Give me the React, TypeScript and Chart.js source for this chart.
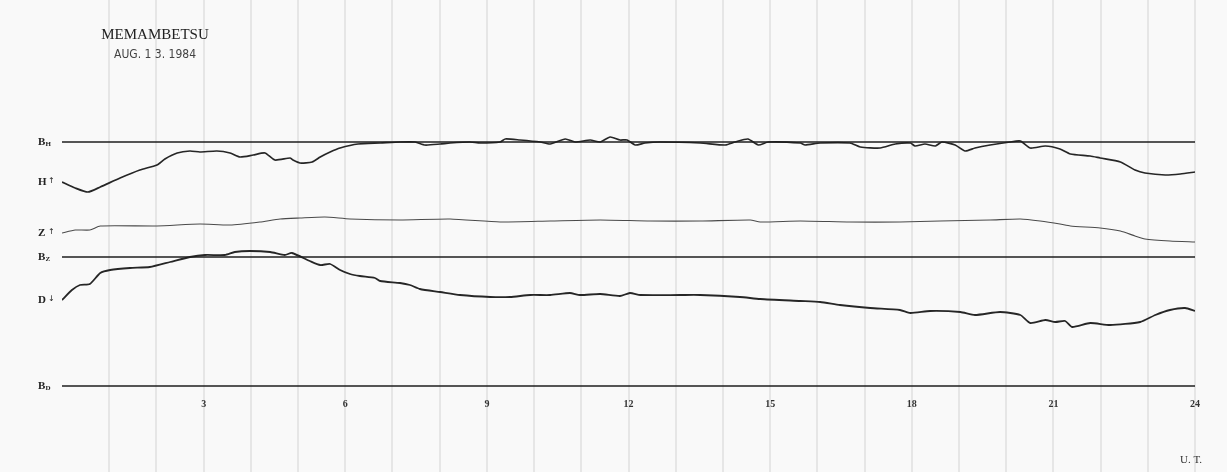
import React, { useEffect, useRef } from "react";
import { Chart, registerables } from "chart.js";

Chart.register(...registerables);

// Universal time (hours) and trace heights (arbitrary chart units, 0 = bottom of sheet)
const H_HOURS = [0, 0.28, 0.55, 0.81, 1.23, 1.65, 2.01, 2.18, 2.44, 2.71, 2.92, 3.28, 3.56, 3.77, 4.05, 4.3, 4.51, 4.83, 4.89, 5.04, 5.3, 5.47, 5.68, 5.89, 6.27, 6.74, 7.16, 7.48, 7.69, 8.01, 8.22, 8.64, 8.86, 9.28, 9.39, 9.7, 10.13, 10.34, 10.66, 10.87, 11.19, 11.4, 11.61, 11.82, 11.97, 12.14, 12.35, 12.67, 13.52, 14.05, 14.26, 14.53, 14.75, 14.96, 15.64, 15.74, 16.06, 16.69, 16.91, 17.33, 17.65, 17.97, 18.07, 18.28, 18.5, 18.64, 18.92, 19.13, 19.34, 19.66, 20.08, 20.3, 20.51, 20.83, 21.14, 21.36, 21.78, 21.99, 22.42, 22.73, 22.94, 23.37, 23.69, 24];
const H_VALUES = [290, 284, 280, 285, 294, 302, 307, 313, 319, 321, 320, 321, 319, 315, 317, 319, 312, 314, 312, 309, 310, 315, 320, 324, 328, 329, 330, 330, 327, 328, 329, 330, 329, 330, 333, 332, 330, 328, 333, 330, 332, 330, 335, 332, 332, 327, 329, 330, 329, 327, 330, 333, 327, 330, 329, 327, 329, 329, 325, 324, 328, 329, 326, 328, 326, 330, 327, 321, 324, 327, 330, 331, 324, 326, 323, 318, 316, 314, 310, 302, 299, 297, 298, 300];

const Z_HOURS = [0, 0.28, 0.59, 0.81, 2.01, 2.92, 3.56, 4.19, 4.62, 5.04, 5.57, 6.1, 7.16, 8.22, 9.28, 10.34, 11.4, 12.46, 13.52, 14.58, 14.79, 15.64, 16.69, 17.75, 18.6, 19.66, 20.3, 20.72, 21.14, 21.36, 21.99, 22.42, 22.73, 22.94, 23.47, 24];
const Z_VALUES = [239, 242, 242, 246, 246, 248, 247, 250, 253, 254, 255, 253, 252, 253, 250, 251, 252, 251, 251, 252, 250, 251, 250, 250, 251, 252, 253, 251, 248, 246, 244, 241, 236, 233, 231, 230];

const D_HOURS = [0, 0.21, 0.38, 0.59, 0.81, 1.02, 1.44, 1.86, 2.29, 2.71, 3.03, 3.45, 3.66, 3.98, 4.41, 4.72, 4.87, 5.25, 5.47, 5.68, 5.89, 6.1, 6.31, 6.63, 6.74, 7.16, 7.37, 7.58, 8.01, 8.43, 9.07, 9.49, 9.92, 10.34, 10.76, 10.97, 11.4, 11.82, 12.03, 12.25, 13.09, 13.52, 14.36, 14.79, 15.64, 16.06, 16.48, 17.12, 17.75, 17.97, 18.39, 19.03, 19.34, 19.87, 20.3, 20.51, 20.83, 21.04, 21.25, 21.4, 21.78, 22.2, 22.84, 23.16, 23.47, 23.79, 24];
const D_VALUES = [172, 182, 187, 188, 199, 202, 204, 205, 210, 215, 217, 217, 220, 221, 220, 217, 219, 211, 207, 208, 202, 198, 196, 194, 191, 189, 187, 183, 180, 177, 175, 175, 177, 177, 179, 177, 178, 176, 179, 177, 177, 177, 175, 173, 171, 170, 167, 164, 162, 159, 161, 160, 157, 160, 157, 149, 152, 150, 151, 145, 149, 147, 150, 157, 162, 164, 161];

// Base lines
const BASE_H = 330;
const BASE_Z = 215;
const BASE_D = 86;

const TICK_HOURS = [3, 6, 9, 12, 15, 18, 21, 24];
const TICK_LABELS = ["3", "6", "9", "12", "15", "18", "21", "24"];

const STATION = "MEMAMBETSU";
const DATE_TEXT = "AUG. 1 3. 1984";
const TIME_UNIT = "U. T.";

const pts = (xs: number[], ys: number[]) => xs.map((x, i) => ({ x, y: ys[i] }));
const base = (v: number) => [{ x: 0, y: v }, { x: 24, y: v }];

const textPlugin = {
  id: "magnetogramText",
  afterDatasetsDraw(chart: any) {
    const { ctx, scales } = chart;
    const xs = scales.x;
    const ys = scales.y;
    ctx.save();
    ctx.fillStyle = "#222";
    ctx.textBaseline = "middle";

    // Title
    ctx.textAlign = "center";
    ctx.font = '15px "Liberation Serif", "DejaVu Serif", serif';
    ctx.fillText(STATION, 155, 35);
    ctx.font = '12px "Liberation Sans Narrow", "DejaVu Sans Condensed", sans-serif';
    ctx.fillStyle = "#444";
    ctx.fillText(DATE_TEXT, 155, 55);

    // Left labels
    const left = 38;
    const drawB = (sub: string, v: number) => {
      const y = ys.getPixelForValue(v);
      ctx.textAlign = "left";
      ctx.fillStyle = "#222";
      ctx.font = 'bold 11px "Liberation Serif", "DejaVu Serif", serif';
      ctx.fillText("B", left, y);
      ctx.font = 'bold 7px "Liberation Serif", "DejaVu Serif", serif';
      ctx.fillText(sub, left + 7.5, y + 2);
    };
    const drawC = (c: string, arrow: string, v: number) => {
      const y = ys.getPixelForValue(v);
      ctx.textAlign = "left";
      ctx.fillStyle = "#222";
      ctx.font = 'bold 11px "Liberation Serif", "DejaVu Serif", serif';
      ctx.fillText(c, left, y);
      ctx.font = '8px "DejaVu Sans", sans-serif';
      ctx.fillText(arrow, left + 10, y - 1);
    };
    drawB("H", BASE_H);
    drawB("Z", BASE_Z);
    drawB("D", BASE_D);
    drawC("H", "↑", H_VALUES[0]);
    drawC("Z", "↑", Z_VALUES[0]);
    drawC("D", "↓", D_VALUES[0]);

    // Time ticks
    ctx.textAlign = "center";
    ctx.font = 'bold 10px "Liberation Serif", "DejaVu Serif", serif';
    ctx.fillStyle = "#333";
    TICK_HOURS.forEach((h, i) => {
      ctx.fillText(TICK_LABELS[i], xs.getPixelForValue(h), 404);
    });
    ctx.font = '11px "Liberation Serif", "DejaVu Serif", serif';
    ctx.fillText(TIME_UNIT, xs.getPixelForValue(24) - 4, 460);
    ctx.restore();
  },
};

export default function App() {
  const ref = useRef<HTMLCanvasElement>(null);
  useEffect(() => {
    if (!ref.current) return;
    const traceStyle = (color: string, w: number) => ({
      borderColor: color,
      borderWidth: w,
      pointRadius: 0,
      tension: 0.2,
      fill: false,
    });
    const chart = new Chart(ref.current, {
      type: "line",
      data: {
        datasets: [
          { label: "BH", data: base(BASE_H), ...traceStyle("#1e1e1e", 1.4), tension: 0 },
          { label: "BZ", data: base(BASE_Z), ...traceStyle("#1e1e1e", 1.4), tension: 0 },
          { label: "BD", data: base(BASE_D), ...traceStyle("#1e1e1e", 1.4), tension: 0 },
          { label: "H", data: pts(H_HOURS, H_VALUES), ...traceStyle("#262626", 1.7) },
          { label: "Z", data: pts(Z_HOURS, Z_VALUES), ...traceStyle("#4a4a4a", 1.1) },
          { label: "D", data: pts(D_HOURS, D_VALUES), ...traceStyle("#262626", 1.8) },
        ],
      },
      options: {
        animation: false,
        responsive: false,
        maintainAspectRatio: false,
        layout: { padding: { left: 62, right: 32, top: 0, bottom: 0 } },
        plugins: { legend: { display: false }, tooltip: { enabled: false }, title: { display: false } },
        scales: {
          x: {
            type: "linear",
            min: 0,
            max: 24,
            ticks: { display: false, stepSize: 1 },
            border: { display: false },
            grid: {
              drawTicks: false,
              lineWidth: 2,
              color: (c: any) => (c.tick && c.tick.value === 0 ? "rgba(0,0,0,0)" : "#e6e6e6"),
            },
          },
          y: {
            display: false,
            min: 0,
            max: 472,
          },
        },
      },
      plugins: [textPlugin],
    });
    return () => chart.destroy();
  }, []);
  return (
    <div style={{ position: "absolute", left: 0, top: 0, width: 1227, height: 472, background: "#f9f9f9" }}>
      <canvas ref={ref} width={1227} height={472} />
    </div>
  );
}
